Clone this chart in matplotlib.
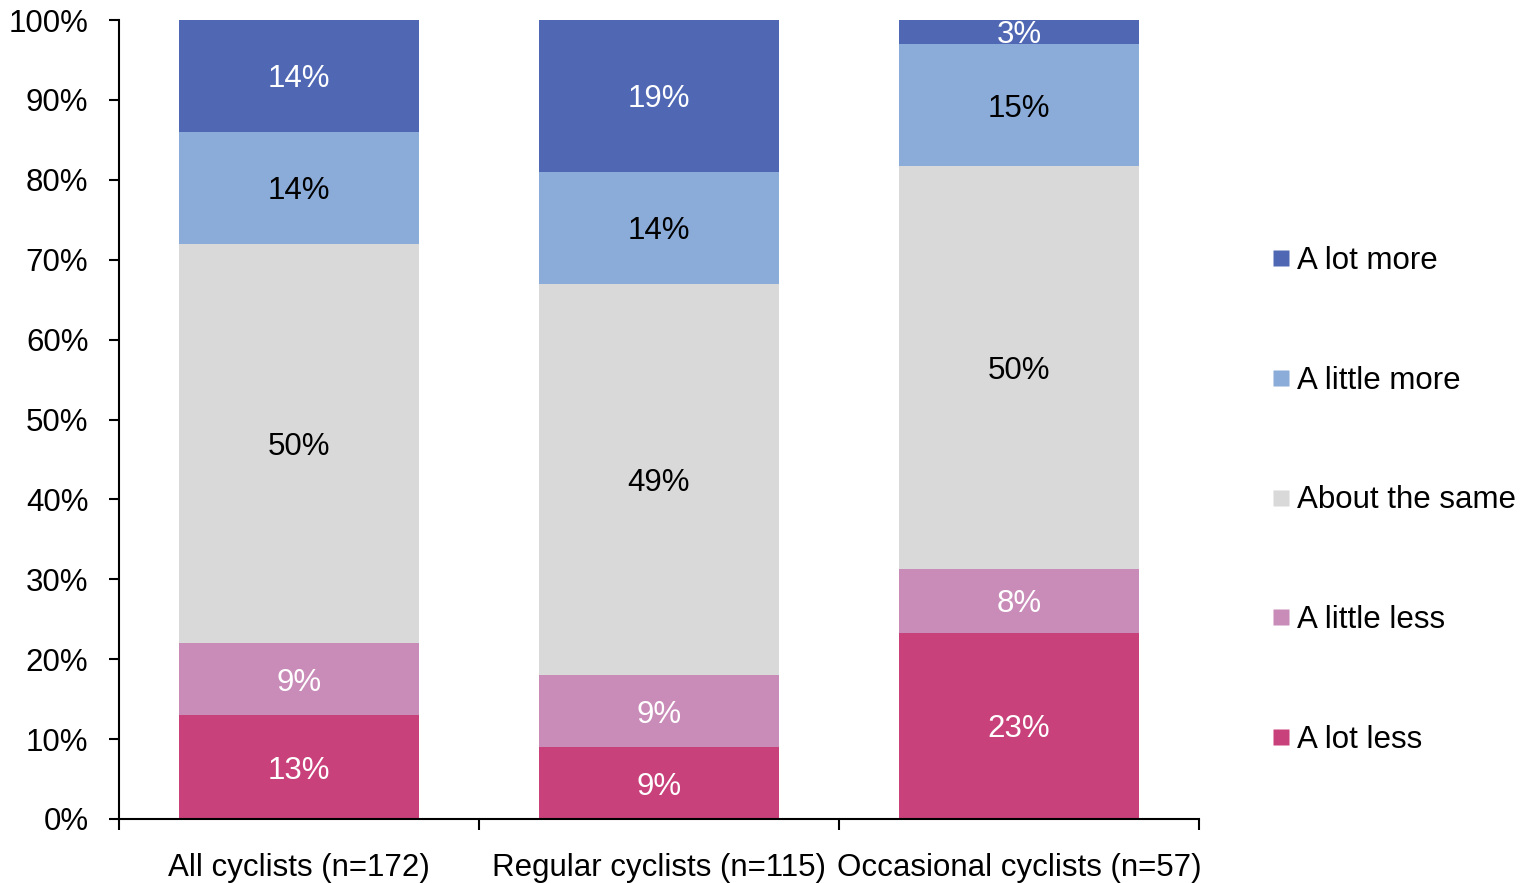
import matplotlib
matplotlib.use("Agg")
import matplotlib.pyplot as plt
from matplotlib.ticker import FixedLocator, PercentFormatter
from matplotlib.lines import Line2D
import numpy as np

plt.rcParams['font.family'] = ['Liberation Sans', 'DejaVu Sans']

categories = ["All cyclists (n=172)", "Regular cyclists (n=115)", "Occasional cyclists (n=57)"]
series_names = ["A lot less", "A little less", "About the same", "A little more", "A lot more"]
a_lot_less = [13.0, 9.0, 23.3]
a_little_less = [9.0, 9.0, 8.0]
about_same = [50.0, 49.0, 50.4]
a_little_more = [14.0, 14.0, 15.3]
a_lot_more = [14.0, 19.0, 3.0]
labels_lot_less = ["13%", "9%", "23%"]
labels_little_less = ["9%", "9%", "8%"]
labels_same = ["50%", "49%", "50%"]
labels_little_more = ["14%", "14%", "15%"]
labels_lot_more = ["14%", "19%", "3%"]

series = [a_lot_less, a_little_less, about_same, a_little_more, a_lot_more]
labels = [labels_lot_less, labels_little_less, labels_same, labels_little_more, labels_lot_more]
colors = ["#C8417A", "#C98CB8", "#D9D9D9", "#8BACD8", "#5068B4"]
text_colors = ["white", "white", "black", "black", "white"]

FS = 22.5

fig = plt.figure(figsize=(15.25, 8.83), dpi=100)
ax = fig.add_axes([119/1525, 1-819/883, (1199-119)/1525, (819-20)/883])

x = np.arange(len(categories))
bottom = np.zeros(len(categories))
for vals, labs, c, tc, name in zip(series, labels, colors, text_colors, series_names):
    vals = np.array(vals)
    ax.bar(x, vals, width=0.664, bottom=bottom, color=c, label=name, edgecolor='none')
    for xi, v, b, lab in zip(x, vals, bottom, labs):
        ax.text(xi, b + v/2, lab, ha='center', va='center_baseline', color=tc, fontsize=FS)
    bottom += vals

ax.set_xlim(-0.5, 2.5)
ax.set_ylim(0, 100)
ax.yaxis.set_major_locator(FixedLocator(np.arange(0, 101, 10)))
ax.yaxis.set_major_formatter(PercentFormatter(decimals=0))
ax.tick_params(axis='y', labelsize=FS, length=7, width=1.5, direction='out', pad=15)
ax.set_xticks([-0.5, 0.5, 1.5, 2.5])
ax.set_xticklabels([])
ax.set_xticks(x, minor=True)
ax.set_xticklabels(categories, minor=True)
ax.tick_params(axis='x', which='major', length=8, width=1.5, direction='out')
ax.tick_params(axis='x', which='minor', length=0, labelsize=FS, pad=24.5)
for s in ['top', 'right']:
    ax.spines[s].set_visible(False)
for s in ['left', 'bottom']:
    ax.spines[s].set_linewidth(1.5)

proxies = [Line2D([0], [0], marker='s', linestyle='none', markersize=11,
                  markerfacecolor=c, markeredgecolor='none') for c in colors]
fig.legend(proxies[::-1], series_names[::-1], loc='center left',
           bbox_to_anchor=(1273.5/1525, 1-500.5/883), frameon=False, borderpad=0,
           borderaxespad=0, fontsize=FS, labelspacing=2.875, handlelength=0.5,
           handletextpad=0.25)

fig.savefig("out.png", dpi=100)
